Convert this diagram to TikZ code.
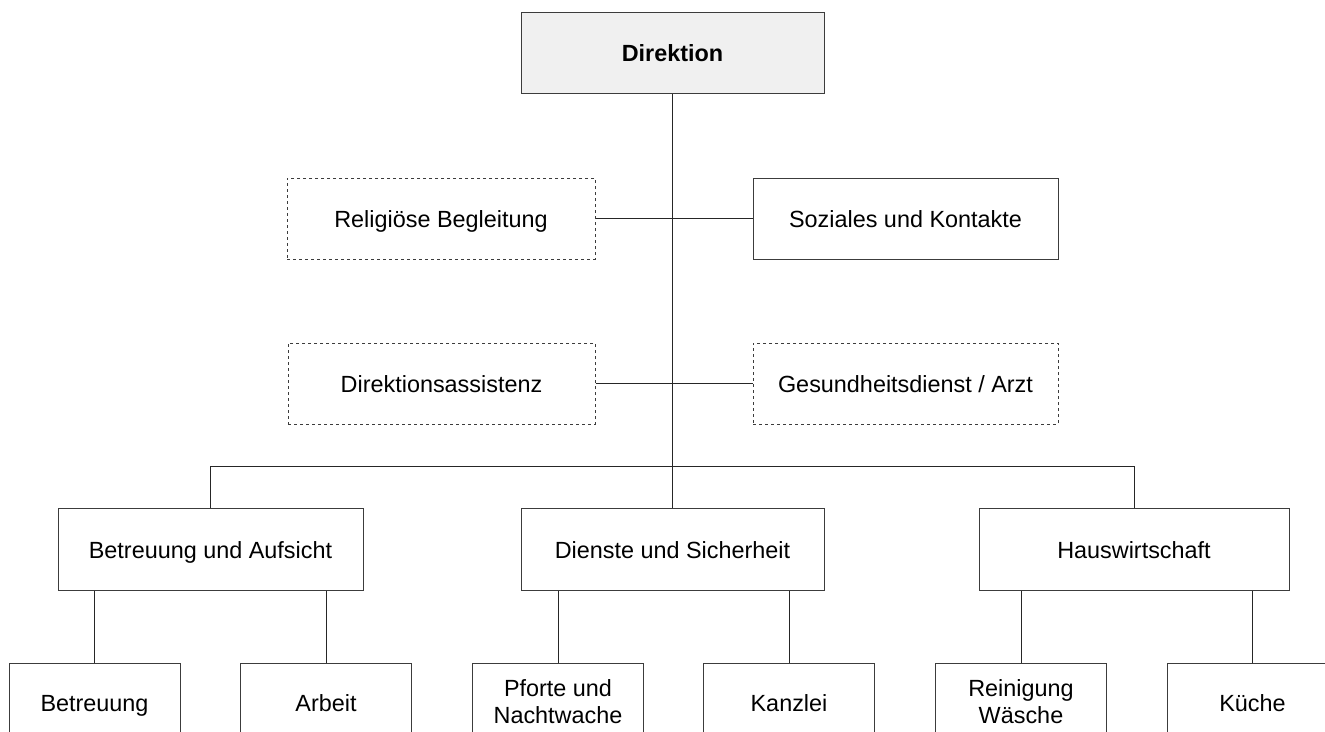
\documentclass[tikz,border=0pt]{standalone}
\usepackage{fontspec}
\setmainfont{Liberation Sans}
\definecolor{boxfill}{RGB}{240,240,240}
\definecolor{edge}{RGB}{60,60,60}
\begin{document}
\begin{tikzpicture}[x=1pt,y=-1pt,
  unit/.style={draw=edge, line width=1pt, rectangle, inner sep=0pt, align=center,
    font=\fontsize{23.4}{27}\selectfont, minimum height=81pt, minimum width=305pt},
  oneline/.style={text height=18.5pt, text depth=0pt},
  dashunit/.style={unit, oneline, dash pattern=on 3pt off 3pt},
  leaf/.style={unit, minimum width=171pt, minimum height=78pt},
  link/.style={draw=black!85, line width=1pt}]
\useasboundingbox (0,0) rectangle (1325,731);
\clip (0,0) rectangle (1325,731);
\fill[white] (0,0) rectangle (1325,731);
% top
\node[unit, oneline, fill=boxfill, minimum width=303pt, font=\fontsize{23.4}{27}\selectfont\bfseries] (dir) at (672.5,52.5) {Direktion};
% staff rows
\node[dashunit, minimum width=308pt] (rel) at (441,218.5) {Religiöse Begleitung};
\node[unit, oneline] (soz) at (905.5,218.5) {Soziales und Kontakte};
\node[dashunit, minimum width=307pt] (ass) at (441.5,383.5) {Direktionsassistenz};
\node[dashunit] (ges) at (905.5,383.5) {Gesundheitsdienst / Arzt};
% departments
\node[unit, oneline, minimum height=82pt] (ba) at (210.5,549) {Betreuung und Aufsicht};
\node[unit, oneline, minimum width=303pt, minimum height=82pt] (ds) at (672.5,549) {Dienste und Sicherheit};
\node[unit, oneline, minimum width=310pt, minimum height=82pt] (hw) at (1134,549) {Hauswirtschaft};
% leaves
\node[leaf, oneline] (bt) at (94.5,702) {Betreuung};
\node[leaf, oneline] (ar) at (326,702) {Arbeit};
\node[leaf] (pf) at (558,702) {Pforte und\\Nachtwache};
\node[leaf, oneline] (ka) at (789,702) {Kanzlei};
\node[leaf] (re) at (1021,702) {Reinigung\\Wäsche};
\node[leaf, oneline] (ku) at (1252.5,702) {Küche};
% connectors
\coordinate (bus) at (672.5,466);
\draw[link] (dir.south) -- (ds.north);
\draw[link] (rel.east) -- (soz.west);
\draw[link] (ass.east) -- (ges.west);
\draw[link] (ba.north) -- (ba.north |- bus) -- (hw.north |- bus) -- (hw.north);
\draw[link] (bt.north) -- (bt.north |- ba.south);
\draw[link] (ar.north) -- (ar.north |- ba.south);
\draw[link] (pf.north) -- (pf.north |- ds.south);
\draw[link] (ka.north) -- (ka.north |- ds.south);
\draw[link] (re.north) -- (re.north |- hw.south);
\draw[link] (ku.north) -- (ku.north |- hw.south);
\end{tikzpicture}
\end{document}
